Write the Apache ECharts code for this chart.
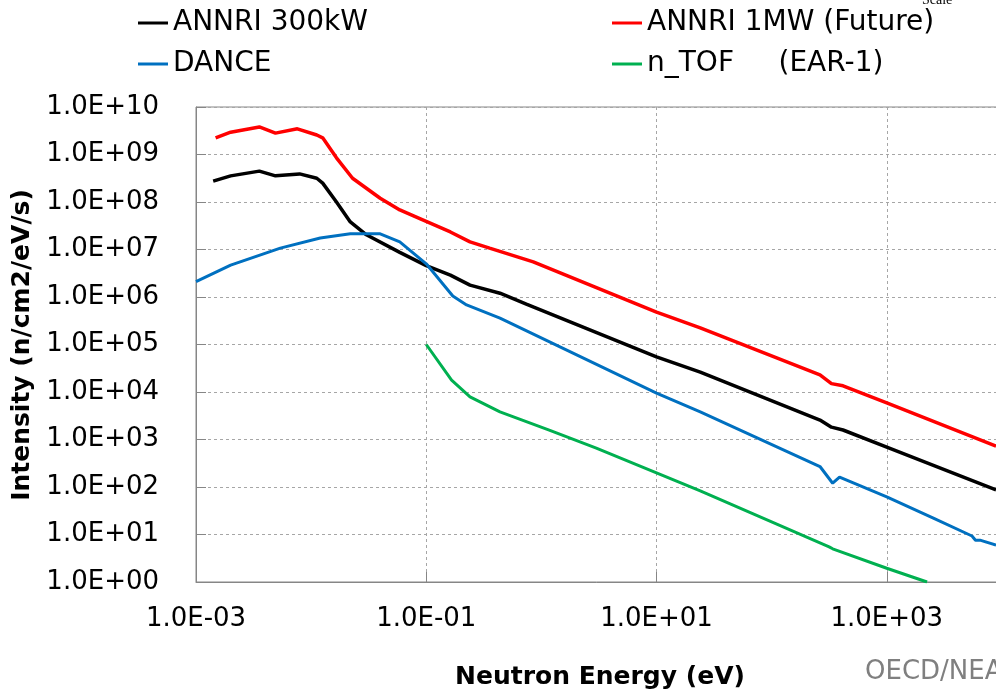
<!DOCTYPE html>
<html lang="en">
<head>
	<meta charset="UTF-8">
	<title>Neutron flux</title>
	<script src="https://cdn.jsdelivr.net/npm/echarts@6/dist/echarts.min.js"></script>
	<style>
		html,body{width:100%;height:100%;margin:0;padding:0;background:#fff;}
		#chart{width:996px;height:692px;}
	</style>
</head>
<body>
	<div id="chart"></div>
<script>
	// energy (eV) / intensity (n/cm2/eV/s)
	var annri300E = [1.41e-3, 2.0e-3, 3.55e-3, 4.9e-3, 7.94e-3, 1.12e-2, 1.26e-2, 1.66e-2, 2.19e-2, 3.02e-2, 5.89e-2, 0.1, 0.162, 0.24, 0.437, 0.74, 10, 24, 263, 331, 417, 1000, 8900];
	var annri300I = [2.75e8, 3.55e8, 4.47e8, 3.55e8, 3.9e8, 3.16e8, 2.5e8, 1.0e8, 3.8e7, 2.04e7, 8.7e6, 4.57e6, 2.88e6, 1.78e6, 1.2e6, 7.1e5, 5.5e4, 2.63e4, 2570, 1820, 1585, 692, 87];

	var annri1mE = [1.48e-3, 2.0e-3, 3.55e-3, 4.9e-3, 7.6e-3, 1.12e-2, 1.26e-2, 1.66e-2, 2.29e-2, 3.98e-2, 5.89e-2, 8.9e-2, 0.162, 0.24, 0.355, 0.85, 10, 24, 263, 331, 417, 1000, 8900];
	var annri1mI = [2.24e9, 2.95e9, 3.8e9, 2.82e9, 3.47e9, 2.57e9, 2.24e9, 8.5e8, 3.16e8, 1.2e8, 6.8e7, 4.4e7, 2.34e7, 1.45e7, 1.07e7, 5.5e6, 4.8e5, 2.24e5, 2.3e4, 1.5e4, 1.35e4, 5900, 725];

	var danceE = [1.0e-3, 2.0e-3, 5.4e-3, 1.2e-2, 2.19e-2, 3.98e-2, 5.89e-2, 0.1, 0.17, 0.224, 0.437, 10, 24, 263, 339, 389, 1000, 2512, 5500, 5900, 6450, 8900];
	var danceI = [2.1e6, 4.7e6, 1.07e7, 1.74e7, 2.14e7, 2.14e7, 1.45e7, 5.0e6, 1.05e6, 6.8e5, 3.6e5, 9.5e3, 3.8e3, 270, 120, 162, 62, 22.4, 9.3, 7.6, 7.6, 6.0];

	var ntofE = [0.1, 0.166, 0.24, 0.437, 1.17, 3.0, 24, 316, 339, 1000, 2240];
	var ntofI = [1.0e5, 1.78e4, 7.9e3, 3.8e3, 1.58e3, 660, 83, 5.5, 5.0, 1.95, 1.0];

	var seriesNames = ['ANNRI 300kW', 'ANNRI 1MW (Future)', 'DANCE', 'n_TOF     (EAR-1)'];
	var seriesColors = ['#000000', '#ff0000', '#0070c0', '#00b050'];

	// both axes are drawn in decades (log10 of the value)
	function pairs(e, v) {
		var out = [];
		for (var i = 0; i < e.length; i++) {
			out.push([Math.log10(e[i]), Math.log10(v[i])]);
		}
		return out;
	}

	function pad2(n) {
		return (n < 10 ? '0' : '') + n;
	}

	function sciLabel(v) {
		if (Math.abs(v - Math.round(v)) > 1e-6) return '';
		v = Math.round(v);
		return '1.0E' + (v < 0 ? '-' : '+') + pad2(Math.abs(v));
	}

	var FONT = 'DejaVu Sans';
	var allE = [annri300E, annri1mE, danceE, ntofE];
	var allI = [annri300I, annri1mI, danceI, ntofI];
	var seriesArr = [];
	for (var s = 0; s < seriesNames.length; s++) {
		seriesArr.push({
			name: seriesNames[s],
			type: 'line',
			showSymbol: false,
			symbol: 'none',
			color: seriesColors[s],
			lineStyle: {color: seriesColors[s], width: s < 2 ? 3.5 : 3},
			data: pairs(allE[s], allI[s])
		});
	}

	var legendText = {fontFamily: FONT, fontSize: 28, lineHeight: 30, color: '#000'};

	var myChart = echarts.init(document.getElementById('chart'));
	var options = {
		animation: false,
		backgroundColor: '#ffffff',
		grid: {
			show: true,
			borderColor: '#868686',
			borderWidth: 1,
			outerBoundsMode: 'none',
			containLabel: false,
			left: 196,
			top: 107,
			right: -121,
			bottom: 110
		},
		legend: [{
			data: [seriesNames[0], seriesNames[2]],
			orient: 'vertical',
			left: 138,
			top: 8,
			padding: 0,
			icon: 'rect',
			itemWidth: 30,
			itemHeight: 3,
			itemGap: 11,
			textStyle: legendText
		}, {
			data: [seriesNames[1], seriesNames[3]],
			orient: 'vertical',
			left: 612,
			top: 8,
			padding: 0,
			icon: 'rect',
			itemWidth: 30,
			itemHeight: 3,
			itemGap: 11,
			textStyle: legendText
		}],
		xAxis: {
			type: 'value',
			min: -3,
			max: 5,
			interval: 2,
			axisLine: {onZero: false, lineStyle: {color: '#868686', width: 1}},
			axisTick: {inside: true, length: 10, lineStyle: {color: '#868686'}},
			axisLabel: {
				margin: 24,
				fontFamily: FONT,
				fontSize: 26,
				color: '#000',
				formatter: sciLabel
			},
			splitLine: {show: true, lineStyle: {color: '#a6a6a6', type: [3, 3]}}
		},
		yAxis: {
			type: 'value',
			min: 0,
			max: 10,
			interval: 1,
			axisLine: {show: true, onZero: false, lineStyle: {color: '#868686', width: 1}},
			axisTick: {show: true, inside: true, length: 10, lineStyle: {color: '#868686'}},
			axisLabel: {
				margin: 37,
				fontFamily: FONT,
				fontSize: 26,
				color: '#000',
				formatter: sciLabel
			},
			splitLine: {show: true, lineStyle: {color: '#a6a6a6', type: [3, 3]}}
		},
		graphic: [{
			type: 'text',
			x: 22,
			y: 345,
			rotation: Math.PI / 2,
			style: {
				text: 'Intensity (n/cm2/eV/s)',
				font: 'bold 25px "DejaVu Sans"',
				fill: '#000',
				align: 'center',
				verticalAlign: 'middle'
			}
		}, {
			type: 'text',
			x: 600,
			y: 677,
			style: {
				text: 'Neutron Energy (eV)',
				font: 'bold 25px "DejaVu Sans"',
				fill: '#000',
				align: 'center',
				verticalAlign: 'middle'
			}
		}, {
			type: 'text',
			x: 865,
			y: 672,
			style: {
				text: 'OECD/NEA',
				font: '26px "DejaVu Sans"',
				fill: '#7f7f7f',
				align: 'left',
				verticalAlign: 'middle'
			}
		}, {
			type: 'text',
			x: 922,
			y: 7,
			style: {
				text: 'Scale',
				font: '14px "Liberation Serif"',
				fill: '#000',
				align: 'left',
				verticalAlign: 'bottom'
			}
		}],
		series: seriesArr
	};
	myChart.setOption(options);
</script>
</body>
</html>
